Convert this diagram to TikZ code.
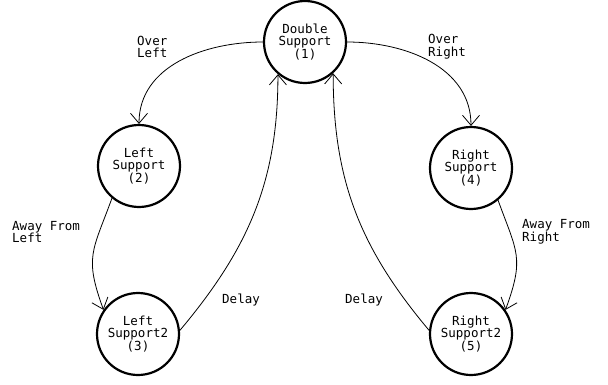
\documentclass[tikz,border=0pt]{standalone}
\usepackage{fontspec}
\newfontfamily\diafont{DejaVu Sans Mono}
\usetikzlibrary{arrows.meta}
\begin{document}
\begin{tikzpicture}[x=1pt,y=1pt,
  txt/.style={font=\diafont\fontsize{12.5}{12.8}\selectfont},
  state/.style={txt, circle, draw, line width=2.2pt, minimum size=82pt, inner sep=0pt, align=center},
  trans/.style={-{Straight Barb[length=10pt,width=17pt,line width=0.8pt]}, line width=0.8pt},
  lbl/.style={txt, align=left, anchor=west, inner sep=0pt}]
\useasboundingbox (0,0) rectangle (608,384);
\node[state] (n1) at (305,342) {Double\\Support\\(1)};
\node[state] (n2) at (139,218) {Left\\Support\\(2)};
\node[state] (n3) at (138,50) {Left\\Support2\\(3)};
\node[state] (n4) at (471,216) {Right\\Support\\(4)};
\node[state] (n5) at (471,50) {Right\\Support2\\(5)};

\draw[trans] (n1) to[out=180,in=90] (n2);
\draw[trans] (n1) to[out=0,in=90] (n4);
\draw[trans] (n2.230) to[out=250,in=110,looseness=1.3] (n3.145);
\draw[trans] (n4.-50) to[out=-70,in=70,looseness=1.3] (n5.35);
\draw[trans] (n3.5) to[out=50,in=-90] (n1.-130);
\draw[trans] (n5.175) to[out=130,in=-90] (n1.-48);

\node[lbl] (l12) at (137,337) {Over\\Left};
\node[lbl] (l14) at (428,337) {Over\\Right};
\node[lbl] (l23) at (12,152) {Away From\\Left};
\node[lbl] (l45) at (522,152) {Away From\\Right};
\node[lbl] (l31) at (222,84) {Delay};
\node[lbl] (l51) at (345,84) {Delay};
\end{tikzpicture}
\end{document}
